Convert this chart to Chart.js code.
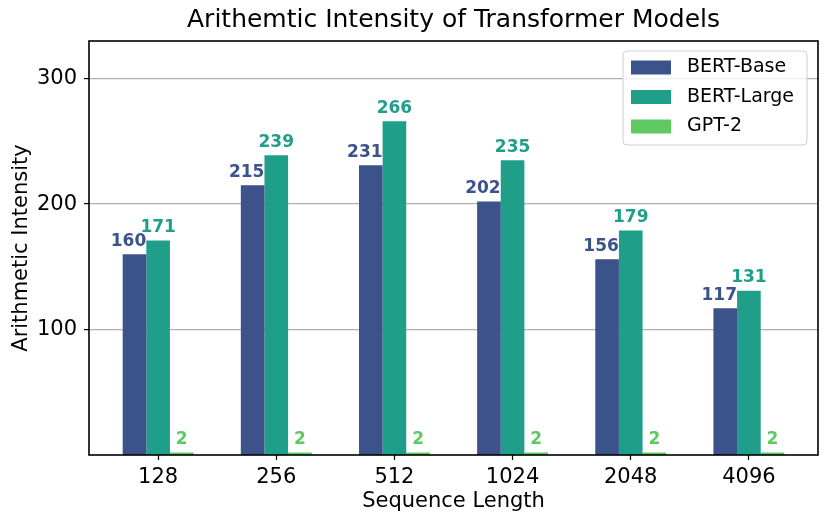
<!DOCTYPE html>
<html>
<head>
<meta charset="utf-8">
<script src="https://cdn.jsdelivr.net/npm/chart.js@4.4.1/dist/chart.umd.min.js"></script>
<style>
    html, body { margin: 0; padding: 0; background: #ffffff; }
    #wrap { width: 830px; height: 526px; }
</style>
</head>
<body>
<div id="wrap"><canvas id="intensity_chart"></canvas></div>
<script>
// chart values
const categories = ["128", "256", "512", "1024", "2048", "4096"];
const bertBase = [160, 215, 231, 202, 156, 117];
const bertLarge = [171, 239, 266, 235, 179, 131];
const gpt2 = [2, 2, 2, 2, 2, 2];
const yTicks = [100, 200, 300];
const seriesNames = ["BERT-Base", "BERT-Large", "GPT-2"];
const seriesColors = ["#3b528b", "#1f9e89", "#5ec962"];
const chartTitle = "Arithemtic Intensity of Transformer Models";

const FONT = "'DejaVu Sans', 'Liberation Sans', sans-serif";

function toPoints(values) {
    return values.map((v, i) => ({x: i, y: v}));
}

// bold value above every bar, same colour as the bar
const barLabels = {
    id: "barLabels",
    afterDatasetsDraw(chart) {
        const ctx = chart.ctx;
        ctx.save();
        ctx.font = "bold 17px " + FONT;
        ctx.textAlign = "center";
        ctx.textBaseline = "alphabetic";
        chart.data.datasets.forEach((ds, di) => {
            const meta = chart.getDatasetMeta(di);
            const shift = di === 0 ? -6 : 0;
            ctx.fillStyle = ds.backgroundColor;
            meta.data.forEach((bar, i) => {
                ctx.fillText(String(ds.data[i].y), bar.x + shift, bar.y - 8.5);
            });
        });
        ctx.restore();
    },
};

// matplotlib style box round the plot, title over the plot, legend upper right
const frameAndLegend = {
    id: "frameAndLegend",
    afterDraw(chart) {
        const ctx = chart.ctx;
        const a = chart.chartArea;
        ctx.save();
        ctx.strokeStyle = "#000000";
        ctx.lineWidth = 1.6;
        ctx.strokeRect(a.left, a.top, a.right - a.left, a.bottom - a.top);

        ctx.font = "25px " + FONT;
        ctx.fillStyle = "#000000";
        ctx.textAlign = "center";
        ctx.textBaseline = "middle";
        ctx.fillText(chartTitle, (a.left + a.right) / 2, 20);

        const bx = a.right - 195, by = a.top + 10, bw = 184, bh = 94;
        ctx.beginPath();
        ctx.roundRect(bx, by, bw, bh, 4);
        ctx.fillStyle = "rgba(255,255,255,0.8)";
        ctx.fill();
        ctx.strokeStyle = "#d0d0d0";
        ctx.lineWidth = 1;
        ctx.stroke();

        ctx.font = "19px " + FONT;
        ctx.textAlign = "left";
        ctx.textBaseline = "middle";
        chart.data.datasets.forEach((ds, di) => {
            const cy = by + 16.5 + di * 29.5;
            ctx.fillStyle = ds.backgroundColor;
            ctx.fillRect(bx + 8, cy - 7, 40, 14);
            ctx.fillStyle = "#000000";
            ctx.fillText(ds.label, bx + 64, cy);
        });
        ctx.restore();
    },
};

const ctx = document.getElementById("intensity_chart").getContext("2d");
new Chart(ctx, {
    type: "bar",
    data: {
        datasets: [
            {label: seriesNames[0], data: toPoints(bertBase), backgroundColor: seriesColors[0]},
            {label: seriesNames[1], data: toPoints(bertLarge), backgroundColor: seriesColors[1]},
            {label: seriesNames[2], data: toPoints(gpt2), backgroundColor: seriesColors[2]},
        ],
    },
    options: {
        responsive: true,
        maintainAspectRatio: false,
        animation: false,
        categoryPercentage: 0.6,
        barPercentage: 1.0,
        layout: {padding: {left: 0, right: 12, top: 41, bottom: 0}},
        scales: {
            x: {
                type: "linear",
                min: -0.585,
                max: 5.585,
                offset: false,
                afterBuildTicks: (scale) => {
                    scale.ticks = categories.map((c, i) => ({value: i}));
                },
                afterFit: (scale) => { scale.height = 71; },
                grid: {offset: false, drawOnChartArea: false, drawTicks: true, tickLength: 5, tickColor: "#000000", tickWidth: 1.2},
                border: {display: false},
                ticks: {
                    autoSkip: false,
                    maxRotation: 0,
                    padding: 5,
                    color: "#000000",
                    font: {family: FONT, size: 21},
                    callback: (v) => categories[v],
                },
                title: {
                    display: true,
                    text: "Sequence Length",
                    color: "#000000",
                    font: {family: FONT, size: 21},
                    padding: {top: 0, bottom: 12},
                },
            },
            y: {
                min: 0,
                max: 330,
                afterBuildTicks: (scale) => {
                    scale.ticks = yTicks.map((v) => ({value: v}));
                },
                afterFit: (scale) => { scale.width = 89; },
                grid: {color: "#b0b0b0", lineWidth: 1.2, drawTicks: true, tickLength: 5, tickColor: "#000000", tickWidth: 1.2},
                border: {display: false},
                ticks: {
                    padding: 7,
                    color: "#000000",
                    font: {family: FONT, size: 21},
                },
                title: {
                    display: true,
                    text: "Arithmetic Intensity",
                    color: "#000000",
                    font: {family: FONT, size: 21},
                    padding: {top: 9, bottom: 0},
                },
            },
        },
        plugins: {
            legend: {display: false},
            tooltip: {enabled: false},
            title: {display: false},
        },
    },
    plugins: [barLabels, frameAndLegend],
});
</script>
</body>
</html>
